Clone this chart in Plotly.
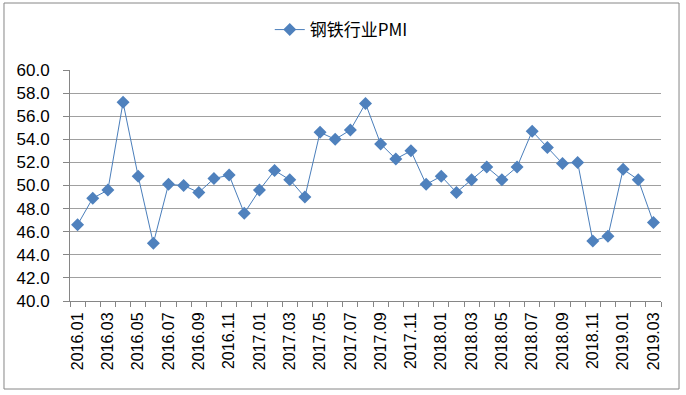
import plotly.graph_objects as go

months = [
    "2016.01","2016.02","2016.03","2016.04","2016.05","2016.06","2016.07","2016.08","2016.09","2016.10","2016.11","2016.12",
    "2017.01","2017.02","2017.03","2017.04","2017.05","2017.06","2017.07","2017.08","2017.09","2017.10","2017.11","2017.12",
    "2018.01","2018.02","2018.03","2018.04","2018.05","2018.06","2018.07","2018.08","2018.09","2018.10","2018.11","2018.12",
    "2019.01","2019.02","2019.03",
]
pmi = [
    46.6, 48.9, 49.6, 57.2, 50.8, 45.0, 50.1, 50.0, 49.4, 50.6, 50.9, 47.6,
    49.6, 51.3, 50.5, 49.0, 54.6, 54.0, 54.8, 57.1, 53.6, 52.3, 53.0, 50.1,
    50.8, 49.4, 50.5, 51.6, 50.5, 51.6, 54.7, 53.3, 51.9, 52.0, 45.2, 45.6,
    51.4, 50.5, 46.8,
]
series_name = "钢铁行业PMI"
y_ticks = [40, 42, 44, 46, 48, 50, 52, 54, 56, 58, 60]

idx = list(range(len(months)))

fig = go.Figure()
fig.add_trace(go.Scatter(
    x=idx, y=pmi, name=series_name, mode="lines+markers",
    line=dict(color="#4A7EBB", width=1),
    marker=dict(symbol="diamond", size=10, color="#4F81BD"),
))

fig.update_layout(
    width=686, height=395,
    margin=dict(l=70, r=25, t=70, b=94),
    paper_bgcolor="white", plot_bgcolor="white",
    font=dict(family="Liberation Sans, Noto Sans CJK SC", color="black", size=13),
    showlegend=True,
    legend=dict(orientation="h", x=0.459, xanchor="center", y=1.173, yanchor="middle",
                font=dict(family="Noto Sans CJK SC, Liberation Sans", size=17, color="black"),
                bgcolor="rgba(0,0,0,0)"),
    xaxis=dict(
        range=[-0.5, len(months) - 0.5],
        tickmode="array", tickvals=idx[::2], ticktext=months[::2],
        tickangle=-90, ticks="", showgrid=False, zeroline=False,
        showline=True, linecolor="#868686", linewidth=1,
        tickfont=dict(size=16), ticklabelstandoff=4,
        minor=dict(tick0=-0.5, dtick=1, ticks="outside", ticklen=5, tickcolor="#868686", showgrid=False),
    ),
    yaxis=dict(
        range=[40, 60], tickmode="array", tickvals=y_ticks,
        ticktext=[f"{v:.1f}" for v in y_ticks],
        showgrid=True, gridcolor="#A0A0A0", gridwidth=1, zeroline=False,
        showline=True, linecolor="#868686", linewidth=1,
        ticks="outside", ticklen=6, tickcolor="#868686",
        tickfont=dict(size=17), ticklabelstandoff=10,
    ),
    shapes=[dict(type="rect", xref="paper", yref="paper",
                 x0=-0.1117, x1=1.0305, y0=-0.381, y1=1.290,
                 line=dict(color="#868686", width=1), fillcolor="rgba(0,0,0,0)", layer="below")],
)

fig.write_html("out.html", config={"displayModeBar": False},
               post_script="document.body.style.margin='0';")
